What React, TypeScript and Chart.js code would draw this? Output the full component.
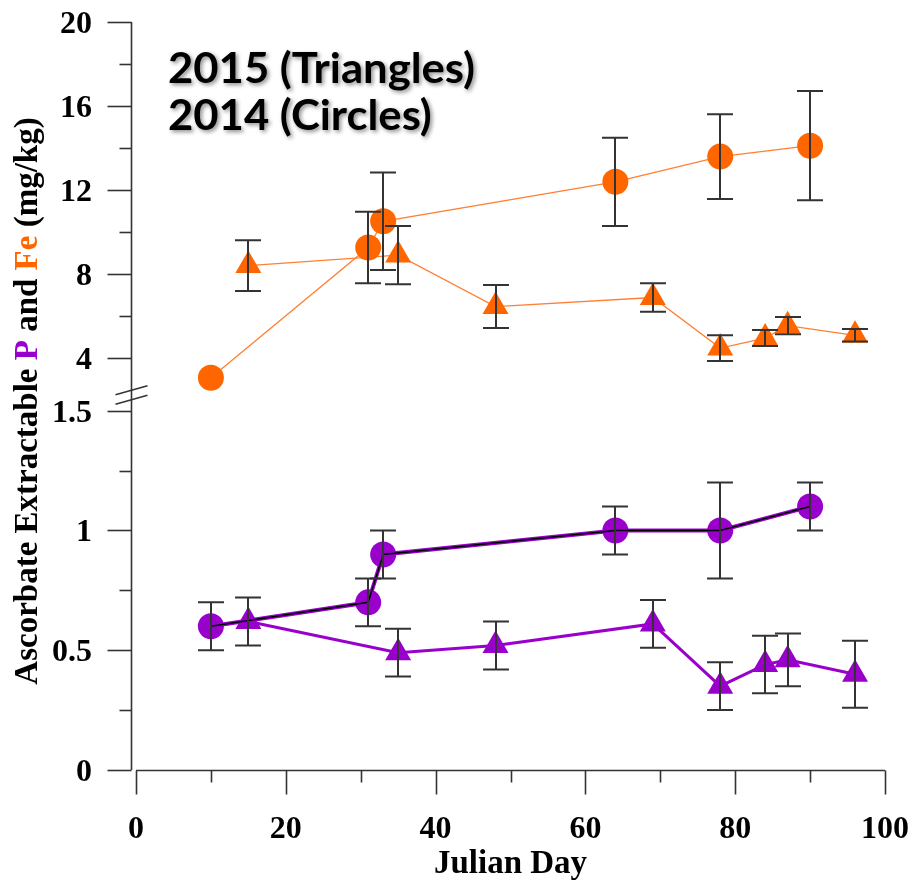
import React, { useEffect, useRef } from 'react';
import { Chart, registerables } from 'chart.js';

Chart.register(...registerables);

// Julian day of each sampling
const DAYS_2014 = [10, 31, 33, 64, 78, 90];
const DAYS_2015 = [15, 35, 48, 69, 78, 84, 87, 96];

// Ascorbate extractable P (mg/kg) with error
const P_2014 = [0.6, 0.7, 0.9, 1.0, 1.0, 1.1];
const P_2014_ERR = [0.1, 0.1, 0.1, 0.1, 0.2, 0.1];
const P_2015 = [0.62, 0.49, 0.52, 0.61, 0.35, 0.44, 0.46, 0.4];
const P_2015_ERR = [0.1, 0.1, 0.1, 0.1, 0.1, 0.12, 0.11, 0.14];

// Ascorbate extractable Fe (mg/kg) with error
const FE_2014 = [3.06, 9.26, 10.51, 12.39, 13.59, 14.11];
const FE_2014_ERR = [0, 1.7, 2.32, 2.1, 2.02, 2.6];
const FE_2015 = [8.4, 8.9, 6.45, 6.88, 4.47, 4.95, 5.54, 5.08];
const FE_2015_ERR = [1.21, 1.39, 1.02, 0.68, 0.61, 0.38, 0.41, 0.3];

// Axis ticks
const X_MAJOR = [0, 20, 40, 60, 80, 100];
const X_MINOR = [10, 30, 50, 70, 90];
const P_MAJOR = [0, 0.5, 1, 1.5];
const P_MINOR = [0.25, 0.75, 1.25];
const FE_MAJOR = [4, 8, 12, 16, 20];
const FE_MINOR = [6, 10, 14, 18];

const TITLE_LINES = ['2015 (Triangles)', '2014 (Circles)'];
const X_TITLE = 'Julian Day';
const Y_TITLE_PARTS: [string, string][] = [
  ['Ascorbate Extractable ', '#000000'],
  ['P', '#9900cc'],
  [' and ', '#000000'],
  ['Fe', '#ff6600'],
  [' (mg/kg)', '#000000'],
];

const ORANGE = '#ff6600';
const ORANGE_LINE = '#ff7f33';
const PURPLE = '#9900cc';
const AXIS_COLOR = '#333333';
const SERIF = '"Liberation Serif", "Times New Roman", serif';

const pts = (xs: number[], ys: number[]) => xs.map((x, i) => ({ x, y: ys[i] }));

const errorBarPlugin = {
  id: 'errorBars',
  afterDatasetsDraw(chart: any) {
    const { ctx } = chart;
    ctx.save();
    ctx.strokeStyle = '#333333';
    ctx.lineWidth = 2;
    chart.data.datasets.forEach((ds: any, i: number) => {
      if (!ds.errors) return;
      const meta = chart.getDatasetMeta(i);
      const scale = chart.scales[ds.yAxisID];
      meta.data.forEach((el: any, j: number) => {
        const e = ds.errors[j];
        if (!e) return;
        const v = ds.data[j].y;
        const x = Math.round(el.x);
        const top = scale.getPixelForValue(v + e);
        const bot = scale.getPixelForValue(v - e);
        const cap = 13;
        ctx.beginPath();
        ctx.moveTo(x, top);
        ctx.lineTo(x, bot);
        ctx.moveTo(x - cap, top);
        ctx.lineTo(x + cap, top);
        ctx.moveTo(x - cap, bot);
        ctx.lineTo(x + cap, bot);
        ctx.stroke();
      });
    });
    ctx.restore();
  },
};

const axesPlugin = {
  id: 'brokenAxes',
  afterDraw(chart: any) {
    const { ctx, chartArea, scales } = chart;
    const sx = scales.x;
    const yP = scales.yP;
    const yFe = scales.yFe;
    const axisX = chartArea.left - 4.5;
    const axisBottom = yP.getPixelForValue(0);
    const xAxisY = axisBottom + 0.5;

    ctx.save();
    ctx.strokeStyle = AXIS_COLOR;
    ctx.lineWidth = 1.6;

    // vertical axis
    ctx.beginPath();
    ctx.moveTo(axisX, yFe.getPixelForValue(20));
    ctx.lineTo(axisX, axisBottom);
    ctx.stroke();

    const yTick = (scale: any, v: number, len: number) => {
      const y = Math.round(scale.getPixelForValue(v)) + 0.5;
      ctx.beginPath();
      ctx.moveTo(axisX - len, y);
      ctx.lineTo(axisX, y);
      ctx.stroke();
    };
    FE_MAJOR.forEach((v) => yTick(yFe, v, 24));
    FE_MINOR.forEach((v) => yTick(yFe, v, 12));
    P_MAJOR.forEach((v) => yTick(yP, v, 24));
    P_MINOR.forEach((v) => yTick(yP, v, 12));

    // axis break marks
    ctx.lineWidth = 1.4;
    const brk = yP.getPixelForValue(1.5);
    [-16, -6.5].forEach((dy) => {
      ctx.beginPath();
      ctx.moveTo(axisX - 16, brk + dy);
      ctx.lineTo(axisX + 16, brk + dy - 9);
      ctx.stroke();
    });

    // horizontal axis
    ctx.lineWidth = 1.6;
    const x0 = sx.getPixelForValue(0);
    const x1 = sx.getPixelForValue(100);
    ctx.beginPath();
    ctx.moveTo(x0, xAxisY);
    ctx.lineTo(x1, xAxisY);
    ctx.stroke();
    const xTick = (v: number, len: number) => {
      const x = Math.round(sx.getPixelForValue(v)) + 0.5;
      ctx.beginPath();
      ctx.moveTo(x, xAxisY);
      ctx.lineTo(x, xAxisY + len);
      ctx.stroke();
    };
    X_MAJOR.forEach((v) => xTick(v, 24));
    X_MINOR.forEach((v) => xTick(v, 12));

    // tick labels
    ctx.fillStyle = '#000000';
    ctx.font = `bold 32px ${SERIF}`;
    ctx.textBaseline = 'alphabetic';
    ctx.textAlign = 'right';
    FE_MAJOR.forEach((v) => ctx.fillText(String(v), 92, yFe.getPixelForValue(v) + 11));
    P_MAJOR.forEach((v) => ctx.fillText(String(v), 92, yP.getPixelForValue(v) + 11));
    ctx.textAlign = 'center';
    X_MAJOR.forEach((v) => ctx.fillText(String(v), sx.getPixelForValue(v), xAxisY + 67));

    // axis titles
    ctx.font = `bold 33px ${SERIF}`;
    ctx.fillText(X_TITLE, (x0 + x1) / 2, xAxisY + 102);

    ctx.save();
    ctx.translate(37, 401);
    ctx.rotate(-Math.PI / 2);
    ctx.textAlign = 'left';
    const total = Y_TITLE_PARTS.reduce((s, [t]) => s + ctx.measureText(t).width, 0);
    let u = -total / 2;
    Y_TITLE_PARTS.forEach(([t, c]) => {
      ctx.fillStyle = c;
      ctx.fillText(t, u, 0);
      u += ctx.measureText(t).width;
    });
    ctx.restore();

    // year key in the upper left
    ctx.save();
    ctx.font = 'bold 42px Lato, "Open Sans", sans-serif';
    ctx.textAlign = 'left';
    const w = ctx.measureText(TITLE_LINES[0]).width;
    const k = 307 / w;
    ctx.shadowColor = 'rgba(0,0,0,0.45)';
    ctx.shadowBlur = 4;
    ctx.shadowOffsetX = 2;
    ctx.shadowOffsetY = 2;
    ctx.fillStyle = '#000000';
    [83, 130].forEach((by, i) => {
      ctx.save();
      ctx.translate(168, by);
      ctx.scale(k, 1);
      ctx.fillText(TITLE_LINES[i], 0, 0);
      ctx.restore();
    });
    ctx.restore();

    ctx.restore();
  },
};

export default function App() {
  const canvasRef = useRef<HTMLCanvasElement | null>(null);

  useEffect(() => {
    document.body.style.margin = '0';
    const canvas = canvasRef.current;
    if (!canvas) return;

    const chart = new Chart(canvas, {
      type: 'line',
      data: {
        datasets: [
          {
            label: 'P 2014 core',
            data: pts(DAYS_2014, P_2014),
            yAxisID: 'yP',
            borderColor: '#000000',
            borderWidth: 1.5,
            pointRadius: 0,
            pointHoverRadius: 0,
            order: 0,
          } as any,
          {
            label: 'P 2014',
            data: pts(DAYS_2014, P_2014),
            errors: P_2014_ERR,
            yAxisID: 'yP',
            borderColor: PURPLE,
            borderWidth: 4,
            pointStyle: 'circle',
            pointRadius: 13,
            pointBackgroundColor: PURPLE,
            pointBorderWidth: 0,
            order: 2,
          },
          {
            label: 'P 2015',
            data: pts(DAYS_2015, P_2015),
            errors: P_2015_ERR,
            yAxisID: 'yP',
            borderColor: PURPLE,
            borderWidth: 3,
            pointStyle: 'triangle',
            pointRadius: 15,
            pointBackgroundColor: PURPLE,
            pointBorderWidth: 0,
            order: 3,
          },
          {
            label: 'Fe 2014',
            data: pts(DAYS_2014, FE_2014),
            errors: FE_2014_ERR,
            yAxisID: 'yFe',
            borderColor: ORANGE_LINE,
            borderWidth: 1.3,
            pointStyle: 'circle',
            pointRadius: 13,
            pointBackgroundColor: ORANGE,
            pointBorderWidth: 0,
            order: 4,
          },
          {
            label: 'Fe 2015',
            data: pts(DAYS_2015, FE_2015),
            errors: FE_2015_ERR,
            yAxisID: 'yFe',
            borderColor: ORANGE_LINE,
            borderWidth: 1.3,
            pointStyle: 'triangle',
            pointRadius: 15,
            pointBackgroundColor: ORANGE,
            pointBorderWidth: 0,
            order: 5,
          },
        ] as any,
      },
      options: {
        responsive: false,
        animation: false,
        devicePixelRatio: 1,
        layout: { padding: { left: 136, right: 28, top: 22, bottom: 112 } },
        plugins: { legend: { display: false }, tooltip: { enabled: false } },
        elements: { line: { tension: 0 } },
        scales: {
          x: { type: 'linear', min: 0, max: 100, display: false },
          // P occupies the lower band (0–1.5), Fe the upper band (above the break)
          yP: { type: 'linear', position: 'left', min: 0, max: 3.123, display: false },
          yFe: { type: 'linear', position: 'left', min: -15.62, max: 20, display: false },
        },
      },
      plugins: [errorBarPlugin, axesPlugin],
    });

    return () => chart.destroy();
  }, []);

  return (
    <div style={{ width: 913, height: 882, background: '#ffffff' }}>
      <canvas ref={canvasRef} width={913} height={882} style={{ display: 'block' }} />
    </div>
  );
}
